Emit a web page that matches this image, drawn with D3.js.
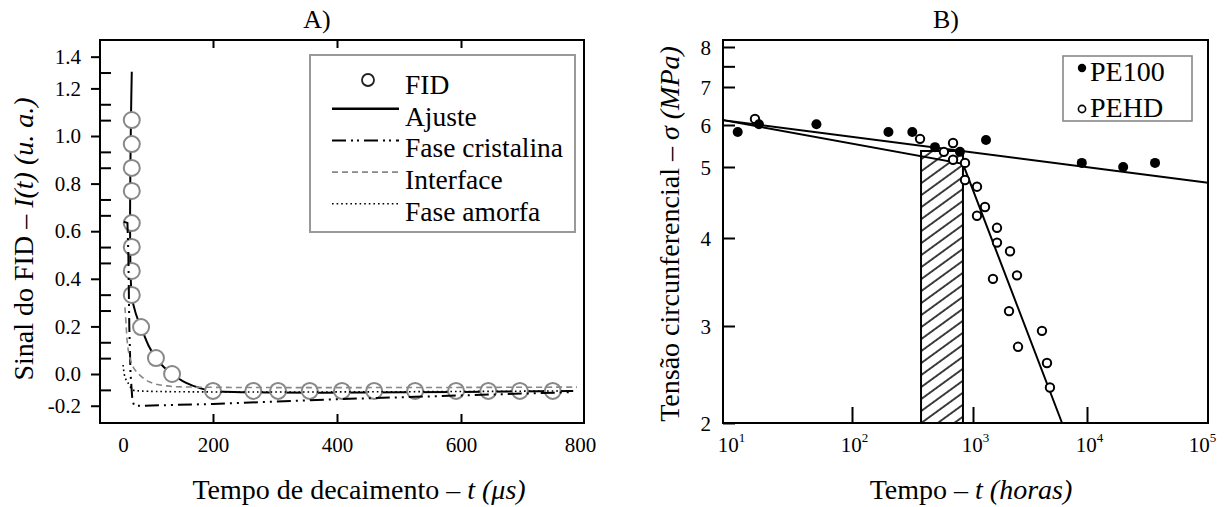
<!DOCTYPE html>
<html><head><meta charset="utf-8">
<script src="https://cdn.jsdelivr.net/npm/d3@7"></script>
<style>
body{margin:0;background:#fff}
svg{display:block}
text{font-family:"Liberation Serif","Times New Roman",serif;fill:#000}
</style>
</head><body>
<svg id="chart" width="1227" height="507"></svg>
<script>
// ---------- Panel A data (FID decay) ----------
const fidTime   = [69,69,69,69,69,69,69,69,84,108,134,200,265,305,356,408,460,526,592,644,695,748];
const fidSignal = [1.067,0.966,0.866,0.769,0.634,0.534,0.433,0.332,0.197,0.067,0.0,
                   -0.071,-0.071,-0.071,-0.071,-0.071,-0.071,-0.071,-0.071,-0.071,-0.071,-0.071];
const fitTime   = [69,69,76,84,96,108,121,134,155,180,200,781];
const fitSignal = [1.27,0.33,0.25,0.197,0.12,0.067,0.028,0.0,-0.035,-0.06,-0.071,-0.071];
const crystTime   = [56,62,63.5,65,67,70,73,200,400,600,781];
const crystSignal = [0.64,0.635,0.5,0.2,0.0,-0.11,-0.134,-0.126,-0.106,-0.09,-0.076];
const interTime   = [58,60,61.5,64,68,71,80,98,125,170,787];
const interSignal = [0.28,0.2,0.14,0.09,0.05,0.03,0.0,-0.034,-0.05,-0.055,-0.055];
const amorTime    = [55,58,63,71,80,781];
const amorSignal  = [0.038,-0.013,-0.038,-0.067,-0.071,-0.071];
const legendA = ["FID","Ajuste","Fase cristalina","Interface","Fase amorfa"];
const xTickA = [200,400,600];
const xLabelA = ["0","200","400","600","800"];
const xLabelPosA = [55,200,400,600,792];
const yLabelA = ["1.4","1.2","1.0","0.8","0.6","0.4","0.2","0.0","-0.2"];
const yLabelPosA = [20/15,1.2,1.0,0.8,0.6,0.4,0.2,0.0,-2/15];
const yMinorStepsA = d3.range(-2,21); // ticks every 1/15

// ---------- Panel B data (regression curves) ----------
const pe100Time   = [13,19,53,200,315,485,780,1300,9000,19900,36500];
const pe100Stress = [5.82,6.02,6.02,5.82,5.82,5.45,5.34,5.62,5.09,5.0,5.09];
const pehdTime    = [17.7,365,575,684,684,859,859,1084,1274,1084,1624,1624,2113,1497,2432,2070,4027,2483,4457,4730];
const pehdStress  = [6.15,5.65,5.34,5.55,5.16,5.09,4.80,4.70,4.41,4.29,4.13,3.94,3.83,3.50,3.54,3.15,2.94,2.75,2.57,2.32];
const pe100FitTime = [10,100000], pe100FitStress = [6.12,4.76];
const pehdFitTime  = [10,826,6040], pehdFitStress = [6.12,5.07,2.0];
const hatchTime = [372,826], hatchStress = [2,5.36];
const xTickB = [10,100,1000,10000,100000];
const xTickInnerB = [100,1000,10000];
const yTickB = [2,3,4,5,6,7,8];
const yMinorB = [7.5];
const legendB = ["PE100","PEHD"];

const svg = d3.select("#chart");
const FONT = '"Liberation Serif","Times New Roman",serif';

// ================= PANEL A =================
const A = {l:100, t:40, r:584, b:423};
const xA = d3.scaleLinear().domain([200,600]).range([213,461]);
const yA = d3.scaleLinear().domain([0,1]).range([374,136]);
const gA = svg.append("g");

const lineA = (xs, ys, curve) => d3.line().x(d=>xA(d[0])).y(d=>yA(d[1])).curve(curve||d3.curveLinear)(xs.map((x,i)=>[x,ys[i]]));

gA.append("path").attr("d", lineA(fitTime, fitSignal, d3.curveCatmullRom.alpha(0.5)))
  .attr("fill","none").attr("stroke","#000").attr("stroke-width",2);
gA.selectAll("circle.fid").data(fidTime.map((t,i)=>[t,fidSignal[i]])).join("circle")
  .attr("cx",d=>xA(d[0])).attr("cy",d=>yA(d[1])).attr("r",8)
  .attr("fill","#fff").attr("stroke","#888").attr("stroke-width",2);
gA.append("path").attr("d", lineA(crystTime, crystSignal))
  .attr("fill","none").attr("stroke","#000").attr("stroke-width",2)
  .attr("stroke-dasharray","14,5,2,5,2,5");
gA.append("path").attr("d", lineA(interTime, interSignal, d3.curveCatmullRom.alpha(0.5)))
  .attr("fill","none").attr("stroke","#888").attr("stroke-width",1.6)
  .attr("stroke-dasharray","6,4");
gA.append("path").attr("d", lineA(amorTime, amorSignal, d3.curveCatmullRom.alpha(0.5)))
  .attr("fill","none").attr("stroke","#000").attr("stroke-width",1.6)
  .attr("stroke-dasharray","1.6,3");

gA.append("rect").attr("x",A.l).attr("y",A.t).attr("width",A.r-A.l).attr("height",A.b-A.t)
  .attr("fill","none").attr("stroke","#000").attr("stroke-width",2);

function styleAxis(g, size){
  g.select(".domain").remove();
  g.attr("font-family",FONT).attr("font-size",size);
  g.selectAll(".tick line").attr("stroke","#000").attr("stroke-width",2);
  g.selectAll(".tick text").attr("fill","#000");
}
const yAx1 = gA.append("g").attr("transform",`translate(${A.l},0)`)
  .call(d3.axisLeft(yA).tickValues(yLabelPosA).tickSize(9).tickPadding(10).tickFormat((d,i)=>yLabelA[i]));
styleAxis(yAx1, 21);
const minorVals = yMinorStepsA.map(k=>k/15).filter(v=>!yLabelPosA.some(p=>Math.abs(p-v)<1e-6));
const yAx2 = gA.append("g").attr("transform",`translate(${A.l},0)`)
  .call(d3.axisLeft(yA).tickValues(minorVals).tickSize(-11).tickFormat(""));
styleAxis(yAx2, 21);
const xAx1 = gA.append("g").attr("transform",`translate(0,${A.b})`)
  .call(d3.axisBottom(xA).tickValues(xTickA).tickSize(-9).tickFormat(""));
styleAxis(xAx1, 21);
const xAx2 = gA.append("g").attr("transform",`translate(0,${A.b})`)
  .call(d3.axisBottom(xA).tickValues(xLabelPosA).tickSize(0).tickPadding(14).tickFormat((d,i)=>xLabelA[i]));
styleAxis(xAx2, 21);
const xAx3 = gA.append("g").attr("transform",`translate(0,${A.t})`)
  .call(d3.axisTop(xA).tickValues(xTickA).tickSize(-8).tickFormat(""));
styleAxis(xAx3, 21);

gA.append("text").attr("x",317).attr("y",28).attr("text-anchor","middle").attr("font-size",26).text("A)");
const xtA = gA.append("text").attr("x",359).attr("y",499).attr("text-anchor","middle").attr("font-size",28);
xtA.append("tspan").text("Tempo de decaimento – ");
xtA.append("tspan").attr("font-style","italic").text("t (μs)");
const ytA = gA.append("text").attr("transform","translate(33,239) rotate(-90)").attr("text-anchor","middle").attr("font-size",28);
ytA.append("tspan").text("Sinal do FID – ");
ytA.append("tspan").attr("font-style","italic").text("I(t) (u. a.)");

const LA = {x:310, y:55, w:265, h:177};
gA.append("rect").attr("x",LA.x).attr("y",LA.y).attr("width",LA.w).attr("height",LA.h)
  .attr("fill","#fff").attr("stroke","#999").attr("stroke-width",2);
const legStyles = [
  {type:"circle"},
  {stroke:"#000", w:2.4, dash:null},
  {stroke:"#000", w:2, dash:"14,5,2,4,2,5"},
  {stroke:"#888", w:1.6, dash:"6,4"},
  {stroke:"#000", w:1.6, dash:"1.6,3"}
];
legendA.forEach((lab,i)=>{
  const base = 94 + i*31.7;
  const st = legStyles[i];
  if(st.type==="circle"){
    gA.append("circle").attr("cx",368).attr("cy",base-14).attr("r",6)
      .attr("fill","#fff").attr("stroke","#222").attr("stroke-width",1.8);
  } else {
    gA.append("line").attr("x1",332).attr("x2",399).attr("y1",base-17).attr("y2",base-17)
      .attr("stroke",st.stroke).attr("stroke-width",st.w).attr("stroke-dasharray",st.dash);
  }
  gA.append("text").attr("x",405).attr("y",base).attr("font-size",27.5).text(lab);
});

// ================= PANEL B =================
const B = {l:723, t:40, r:1208, b:423};
const xB = d3.scaleLog().domain([10,100,1000,10000,100000]).range([723,852,973,1087,1208]);
const yB = d3.scaleLog().domain([2,3,4,5,6,7,8]).range([423,326,238,167,125,87,47]);
const gB = svg.append("g");

const defs = svg.append("defs");
const pat = defs.append("pattern").attr("id","hatch").attr("patternUnits","userSpaceOnUse")
  .attr("width",10).attr("height",9.7).attr("patternTransform","rotate(-36)");
pat.append("line").attr("x1",0).attr("x2",10).attr("y1",1).attr("y2",1)
  .attr("stroke","#000").attr("stroke-width",1.5);

gB.append("rect")
  .attr("x",xB(hatchTime[0])).attr("y",yB(hatchStress[1]))
  .attr("width",xB(hatchTime[1])-xB(hatchTime[0])).attr("height",yB(hatchStress[0])-yB(hatchStress[1]))
  .attr("fill","url(#hatch)").attr("stroke","#000").attr("stroke-width",2);

const lineB = d3.line().x(d=>xB(d[0])).y(d=>yB(d[1]));
gB.append("path").attr("d", lineB(pe100FitTime.map((t,i)=>[t,pe100FitStress[i]])))
  .attr("fill","none").attr("stroke","#000").attr("stroke-width",2);
gB.append("path").attr("d", lineB(pehdFitTime.map((t,i)=>[t,pehdFitStress[i]])))
  .attr("fill","none").attr("stroke","#000").attr("stroke-width",2);

gB.selectAll("circle.pehd").data(pehdTime.map((t,i)=>[t,pehdStress[i]])).join("circle")
  .attr("cx",d=>xB(d[0])).attr("cy",d=>yB(d[1])).attr("r",4.2)
  .attr("fill","#fff").attr("stroke","#000").attr("stroke-width",2);
gB.selectAll("circle.pe100").data(pe100Time.map((t,i)=>[t,pe100Stress[i]])).join("circle")
  .attr("cx",d=>xB(d[0])).attr("cy",d=>yB(d[1])).attr("r",5)
  .attr("fill","#000");

gB.append("rect").attr("x",B.l).attr("y",B.t).attr("width",B.r-B.l).attr("height",B.b-B.t)
  .attr("fill","none").attr("stroke","#000").attr("stroke-width",2);

const yBx = gB.append("g").attr("transform",`translate(${B.l},0)`)
  .call(d3.axisLeft(yB).tickValues(yTickB).tickSize(-12).tickPadding(12).tickFormat(d3.format("d")));
styleAxis(yBx, 21);
yBx.selectAll(".tick text").attr("dy","0.35em");
const yBm = gB.append("g").attr("transform",`translate(${B.l},0)`)
  .call(d3.axisLeft(yB).tickValues(yMinorB).tickSize(-12).tickFormat(""));
styleAxis(yBm, 21);
const xBt = gB.append("g").attr("transform",`translate(0,${B.b})`)
  .call(d3.axisBottom(xB).tickValues(xTickInnerB).tickSize(-16).tickFormat(""));
styleAxis(xBt, 21);
const xBl = gB.append("g").attr("transform",`translate(0,${B.b})`)
  .call(d3.axisBottom(xB).tickValues(xTickB).tickSize(0).tickPadding(14).tickFormat(""));
styleAxis(xBl, 21);
xBl.selectAll(".tick text").each(function(d){
  const t = d3.select(this);
  const px = xB(d);
  const shift = px <= B.l+1 ? 8 : (px >= B.r-1 ? -6 : 2);
  t.attr("x",shift);
  t.append("tspan").text("10");
  t.append("tspan").attr("font-size",13).attr("dy","-0.75em").text(Math.round(Math.log10(d)));
});

gB.append("text").attr("x",946).attr("y",28).attr("text-anchor","middle").attr("font-size",26).text("B)");
const xtB = gB.append("text").attr("x",971).attr("y",499).attr("text-anchor","middle").attr("font-size",28);
xtB.append("tspan").text("Tempo – ");
xtB.append("tspan").attr("font-style","italic").text("t (horas)");
const ytB = gB.append("text").attr("transform","translate(679,234) rotate(-90)").attr("text-anchor","middle").attr("font-size",28);
ytB.append("tspan").text("Tensão circunferencial – ");
ytB.append("tspan").attr("font-style","italic").text("σ (MPa)");

const LB = {x:1063, y:56, w:129, h:65};
gB.append("rect").attr("x",LB.x).attr("y",LB.y).attr("width",LB.w).attr("height",LB.h)
  .attr("fill","#fff").attr("stroke","#888").attr("stroke-width",1.6);
legendB.forEach((lab,i)=>{
  const base = 81 + i*36;
  if(i===0){
    gB.append("circle").attr("cx",1082).attr("cy",base-13).attr("r",4.2).attr("fill","#000");
  } else {
    gB.append("circle").attr("cx",1082).attr("cy",base-8).attr("r",3.6)
      .attr("fill","#fff").attr("stroke","#000").attr("stroke-width",1.6);
  }
  gB.append("text").attr("x",1090).attr("y",base).attr("font-size",28).text(lab);
});
</script>
</body></html>
